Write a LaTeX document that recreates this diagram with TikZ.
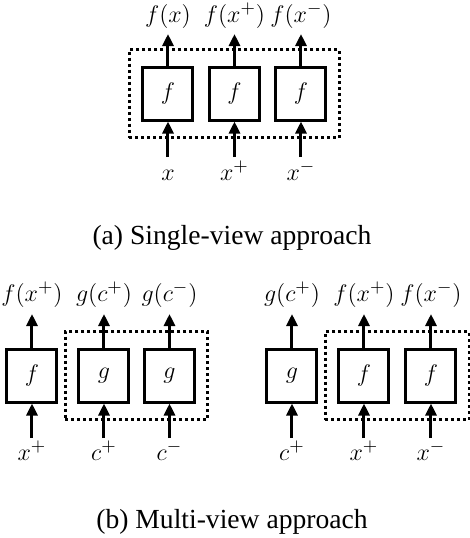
\documentclass[tikz,border=0pt]{standalone}
\usepackage{fontspec}
\setmainfont{Liberation Serif}
\usetikzlibrary{arrows.meta,fit}
\tikzset{
  blk/.style     = {rectangle, draw, line width=1.5pt, minimum width=25pt, minimum height=26.5pt, inner sep=0, font=\fontsize{13}{15}\selectfont},
  grp/.style     = {rectangle, draw, line width=1.5pt, dash pattern=on 1.5pt off 1.5pt, inner xsep=6pt, inner ysep=8pt},
  flow/.style    = {line width=1.5pt, -{Triangle[length=6pt,width=5.5pt]}},
  lbl/.style     = {anchor=base, inner sep=0, font=\fontsize{12.8}{15}\selectfont},
  caption/.style = {font=\fontsize{13.8}{17}\selectfont}
}

\begin{document}
\begin{tikzpicture}[x=0.5pt, y=-0.5pt]

  \useasboundingbox (0,0) rectangle (470,538);

  % (a) single view
  \node[blk] (a1) at (168,93.5)   {$f$};
  \node[blk] (a2) at (234.5,93.5) {$f$};
  \node[blk] (a3) at (301,93.5)   {$f$};
  \node[grp, fit=(a1)(a2)(a3)] (ga) {};

  \coordinate (ai1) at (168,157);   \draw[flow] (ai1) -- (a1); \node[lbl] (ax1) at (168,180)   {$x$};
  \coordinate (ai2) at (234.5,157); \draw[flow] (ai2) -- (a2); \node[lbl] (ax2) at (234.5,180) {$x^+$};
  \coordinate (ai3) at (301,157);   \draw[flow] (ai3) -- (a3); \node[lbl] (ax3) at (301,180)   {$x^-$};

  \coordinate (ao1) at (168,34);    \draw[flow] (a1) -- (ao1); \node[lbl] (af1) at (168,22.5)    {$f(x)$};
  \coordinate (ao2) at (234.5,34);  \draw[flow] (a2) -- (ao2); \node[lbl] (af2) at (234.5,22.5)  {$f(x^+)$};
  \coordinate (ao3) at (301,34);    \draw[flow] (a3) -- (ao3); \node[lbl] (af3) at (301,22.5)    {$f(x^-)$};

  \node[caption] (capa) at (232,238) {(a) Single-view approach};

  % (b) multi view, left
  \node[blk] (b1) at (32,375.5)    {$f$};
  \node[blk] (b2) at (104,375.5)   {$g$};
  \node[blk] (b3) at (169.5,375.5) {$g$};
  \node[grp, fit=(b2)(b3)] (gb) {};

  \coordinate (bi1) at (32,438);    \draw[flow] (bi1) -- (b1); \node[lbl] (bx1) at (32,460)    {$x^+$};
  \coordinate (bi2) at (104,438);   \draw[flow] (bi2) -- (b2); \node[lbl] (bx2) at (104,460)   {$c^+$};
  \coordinate (bi3) at (169.5,438); \draw[flow] (bi3) -- (b3); \node[lbl] (bx3) at (169.5,460) {$c^-$};

  \coordinate (bo1) at (32,314);    \draw[flow] (b1) -- (bo1); \node[lbl] (bf1) at (32,301.5)    {$f(x^+)$};
  \coordinate (bo2) at (104,314);   \draw[flow] (b2) -- (bo2); \node[lbl] (bf2) at (104,301.5)   {$g(c^+)$};
  \coordinate (bo3) at (169.5,314); \draw[flow] (b3) -- (bo3); \node[lbl] (bf3) at (169.5,301.5) {$g(c^-)$};

  % (b) multi view, right
  \node[blk] (c1) at (292,375.5) {$g$};
  \node[blk] (c2) at (364,375.5) {$f$};
  \node[blk] (c3) at (431,375.5) {$f$};
  \node[grp, fit=(c2)(c3)] (gc) {};

  \coordinate (ci1) at (292,438); \draw[flow] (ci1) -- (c1); \node[lbl] (cx1) at (292,460) {$c^+$};
  \coordinate (ci2) at (364,438); \draw[flow] (ci2) -- (c2); \node[lbl] (cx2) at (364,460) {$x^+$};
  \coordinate (ci3) at (431,438); \draw[flow] (ci3) -- (c3); \node[lbl] (cx3) at (431,460) {$x^-$};

  \coordinate (co1) at (292,314); \draw[flow] (c1) -- (co1); \node[lbl] (cf1) at (292,301.5) {$g(c^+)$};
  \coordinate (co2) at (364,314); \draw[flow] (c2) -- (co2); \node[lbl] (cf2) at (364,301.5) {$f(x^+)$};
  \coordinate (co3) at (431,314); \draw[flow] (c3) -- (co3); \node[lbl] (cf3) at (431,301.5) {$f(x^-)$};

  \node[caption] (capb) at (232,522) {(b) Multi-view approach};

\end{tikzpicture}
\end{document}
